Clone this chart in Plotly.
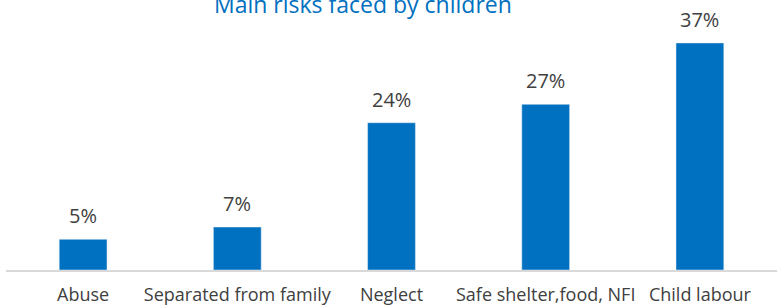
import plotly.graph_objects as go

categories = ["Abuse", "Separated from family", "Neglect", "Safe shelter,food, NFI", "Child labour"]
values = [5, 7, 24, 27, 37]
labels = ["5%", "7%", "24%", "27%", "37%"]

BLUE = "#0070C0"
GREY = "#404040"
FONT = "Open Sans"

fig = go.Figure(go.Bar(x=categories, y=values, marker_color=BLUE, width=0.31,
                       hoverinfo="skip"))

for c, v, t in zip(categories, values, labels):
    fig.add_annotation(x=c, y=v, text=t, showarrow=False, yanchor="bottom",
                       yshift=8, font=dict(family=FONT, size=20, color=GREY))

fig.add_annotation(xref="paper", yref="paper", x=(363 - 6) / 771, y=1,
                   xanchor="center", yanchor="middle", yshift=-4,
                   text="Main risks faced by children", showarrow=False,
                   font=dict(family=FONT, size=23, color=BLUE))

fig.update_layout(
    width=777, height=307,
    margin=dict(l=6, r=0, t=0, b=37),
    paper_bgcolor="white", plot_bgcolor="white",
    showlegend=False,
    xaxis=dict(showline=True, linecolor="#D9D9D9", linewidth=2,
               ticks="outside", ticklen=7, tickcolor="rgba(0,0,0,0)",
               tickfont=dict(family=FONT, size=18, color=GREY),
               showgrid=False, automargin=False),
    yaxis=dict(range=[0, 44], visible=False, showgrid=False, automargin=False),
)

fig.write_html("out.html", config={"displayModeBar": False},
               post_script="document.body.style.margin='0';document.body.style.overflow='hidden';")
